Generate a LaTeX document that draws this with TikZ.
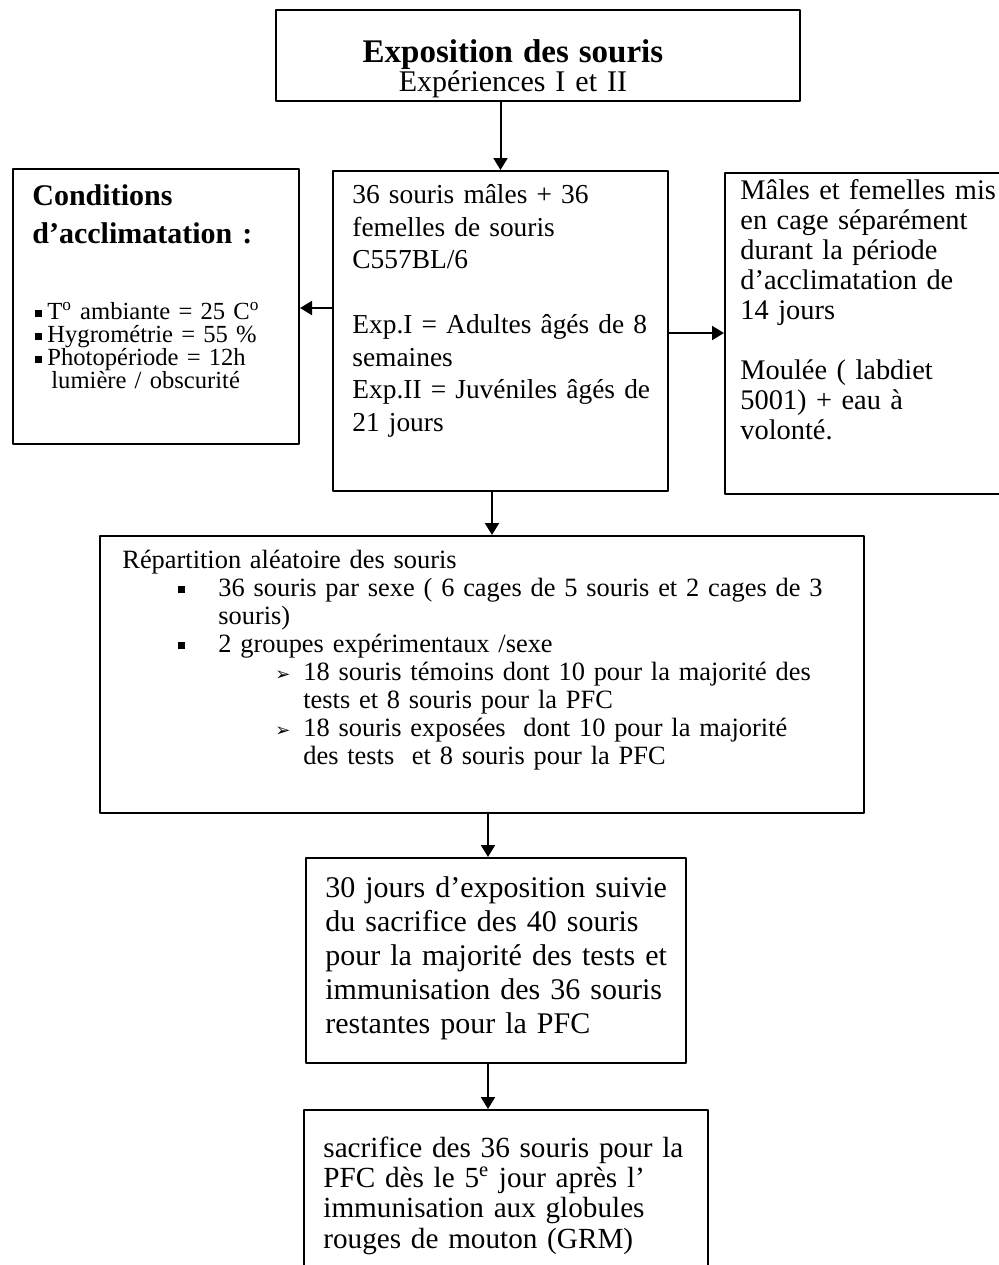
\documentclass[tikz,border=0pt]{standalone}
\usepackage{fontspec}
\setmainfont{Liberation Serif}
\newfontfamily\symfont{DejaVu Sans}
\usetikzlibrary{positioning,arrows.meta}
\newcommand{\puce}{\rule[\dimexpr0.23em-1.75pt\relax]{3.5pt}{3.5pt}}
\tikzset{
	cadre/.style={draw, line width=1pt, inner sep=0pt, anchor=north west},
	texte/.style={inner sep=0pt, anchor=base west, align=left, text width=240pt},
	fleche/.style={-{Triangle[length=6pt,width=7pt]}, line width=1pt},
}
\begin{document}
\begin{tikzpicture}[x=0.5pt,y=-0.5pt, line join=round]
	\useasboundingbox (0,0) rectangle (999,1265);
	\clip (0,0) rectangle (999,1265);
	% --- Cadres ---
	\node[cadre, minimum width=262pt, minimum height=45.5pt] (expo) at (275,9) {};
	\node[cadre, minimum width=143pt, minimum height=137.5pt] (accl) at (12,168) {};
	\node[cadre, minimum width=167.5pt, minimum height=160pt] (souris) at (332,170) {};
	\node[cadre, minimum width=143pt, minimum height=160.5pt] (cage) at (724,172) {};
	\node[cadre, minimum width=382pt, minimum height=138.5pt] (repart) at (99,535) {};
	\node[cadre, minimum width=190pt, minimum height=102.5pt] (trente) at (305,857) {};
	\node[cadre, minimum width=202pt, minimum height=90.5pt] (sacrif) at (303,1109) {};
	% --- Textes ---
	\node[texte, anchor=base, align=center, text width=300pt, font=\fontsize{15}{13}\selectfont] (expotxt) at (513,62)
		{{\bfseries\fontsize{16.5}{13}\selectfont Exposition des souris}\\ Expériences I et II};
	\node[texte, font=\bfseries\fontsize{15}{19}\selectfont] (accltitre) at (32,205)
		{Conditions\\ d’acclimatation :};
	\node[texte, font=\fontsize{12.3}{11.5}\selectfont] (accltxt) at (35,319)
		{\makebox[6pt][l]{\puce}T\textsuperscript{o} ambiante = 25 C\textsuperscript{o}\\
		 \makebox[6pt][l]{\puce}Hygrométrie = 55 \%\\
		 \makebox[6pt][l]{\puce}Photopériode = 12h\\
		 \hspace*{8pt}lumière / obscurité};
	\node[texte, font=\fontsize{13.7}{16.25}\selectfont] (souristxt) at (352,203.5)
		{36 souris mâles + 36\\ femelles de souris\\ C557BL/6\\[16.25pt]
		 Exp.I = Adultes âgés de 8\\ semaines\\ Exp.II = Juvéniles âgés de\\ 21 jours};
	\node[texte, font=\fontsize{14.2}{15}\selectfont] (cagetxt) at (740,199)
		{Mâles et femelles mis\\ en cage séparément\\ durant la période\\ d’acclimatation de\\ 14 jours\\[15pt]
		 Moulée ( labdiet\\ 5001) + eau à\\ volonté.};
	\node[texte, text width=380pt, font=\fontsize{13.2}{14}\selectfont] (reparttxt) at (122,568)
		{Répartition aléatoire des souris\\
		 \hspace*{28pt}\makebox[20pt][l]{\puce}36 souris par sexe ( 6 cages de 5 souris et 2 cages de 3\\
		 \hspace*{48pt}souris)\\
		 \hspace*{28pt}\makebox[20pt][l]{\puce}2 groupes expérimentaux /sexe\\
		 \hspace*{76.5pt}\makebox[14pt][l]{\symfont\small ➢}18 souris témoins dont 10 pour la majorité des\\
		 \hspace*{90.5pt}tests et 8 souris pour la PFC\\
		 \hspace*{76.5pt}\makebox[14pt][l]{\symfont\small ➢}18 souris exposées\ \ dont 10 pour la majorité\\
		 \hspace*{90.5pt}des tests\ \ et 8 souris pour la PFC};
	\node[texte, font=\fontsize{15}{17}\selectfont] (trentetxt) at (325,897)
		{30 jours d’exposition suivie\\ du sacrifice des 40 souris\\ pour la majorité des tests et\\
		 immunisation des 36 souris\\ restantes pour la PFC};
	\node[texte, font=\fontsize{14.6}{15.2}\selectfont] (sacriftxt) at (323,1157)
		{sacrifice des 36 souris pour la\\ PFC dès le 5\textsuperscript{e} jour après l’\\
		 immunisation aux globules\\ rouges de mouton (GRM)};
	% --- Flèches ---
	\draw[fleche] (expo.south -| souris.north) -- (souris.north);
	\draw[fleche] ([yshift=11.5pt]souris.west) -- ([yshift=11.5pt]souris.west -| accl.east);
	\draw[fleche] ([yshift=-1pt]souris.east) -- ([yshift=-1pt]souris.east -| cage.west);
	\draw[fleche] ([xshift=-4.25pt]souris.south) -- ([xshift=-4.25pt]souris.south |- repart.north);
	\draw[fleche] ([xshift=-4pt]trente.north |- repart.south) -- ([xshift=-4pt]trente.north);
	\draw[fleche] ([xshift=-4pt]trente.south) -- ([xshift=-4pt]trente.south |- sacrif.north);
\end{tikzpicture}
\end{document}
